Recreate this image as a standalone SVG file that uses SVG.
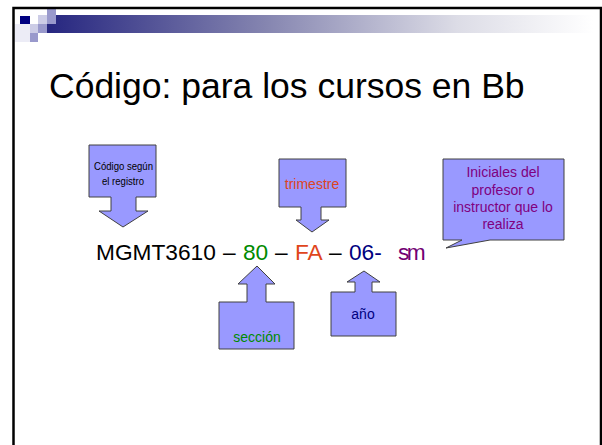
<svg xmlns="http://www.w3.org/2000/svg" width="602" height="445" viewBox="0 0 602 445">
<defs>
<linearGradient id="bar" x1="0" y1="0" x2="1" y2="0">
<stop offset="0" stop-color="#262680"/>
<stop offset="0.4" stop-color="#8585b0"/>
<stop offset="0.75" stop-color="#dcdce6"/>
<stop offset="1" stop-color="#ffffff"/>
</linearGradient>
<style>
.shape{fill:#9999ff;stroke:#404040;stroke-width:1}
.t{font-family:"Liberation Sans",Arial,sans-serif}
.box{font-size:14px;text-anchor:middle}
</style>
</defs>
<rect width="602" height="445" fill="#ffffff"/>
<g id="header">
<rect x="47" y="15" width="546" height="18" fill="url(#bar)"/>
<rect x="47" y="15" width="9" height="9" fill="#9999cc"/>
<rect x="47" y="7" width="9" height="8" fill="#9999cc"/>
<rect x="20" y="16" width="10" height="8" fill="#000080"/>
<rect x="38" y="15" width="9" height="9" fill="#ccccE6"/>
<rect x="15" y="24" width="15" height="18" fill="#ececf6"/>
<rect x="30" y="24" width="8" height="9" fill="#ccccE6"/>
<rect x="38" y="24" width="9" height="9" fill="#9999cc"/>
<rect x="30" y="33" width="8" height="9" fill="#9999cc"/>
<path d="M13.5,447 V8 H601 V447" fill="none" stroke="#000" stroke-width="2.5"/>
</g>
<text class="t" x="49" y="98" font-size="35.5" fill="#000">Código: para los cursos en Bb</text>
<g id="code" class="t" font-size="22.7">
<text x="96" y="260" fill="#000">MGMT3610</text>
<text x="223" y="260" fill="#000">–</text>
<text x="243" y="260" fill="#008a00">80</text>
<text x="275" y="260" fill="#000">–</text>
<text x="295" y="260" fill="#e0461c">FA</text>
<text x="329" y="260" fill="#000">–</text>
<text x="349" y="260" fill="#000080">06-</text>
<text x="398" y="260" fill="#730073" letter-spacing="-2.5">sm</text>
</g>
<g id="node-registro">
<path class="shape" d="M89,145 H156 V197 H136 V211 H148 L123,227 L99,211 H111 V197 H89 Z"/>
<text class="t" x="94" y="170" font-size="11.5" textLength="59" lengthAdjust="spacingAndGlyphs" fill="#000">Código según</text>
<text class="t" x="102" y="185" font-size="11.5" textLength="42" lengthAdjust="spacingAndGlyphs" fill="#000">el registro</text>
</g>
<g id="node-trimestre">
<path class="shape" d="M279,159 H346 V207 H321 V220 H329 L312,232 L296,220 H301 V207 H279 Z"/>
<text class="t box" x="312" y="189" fill="#dd4422">trimestre</text>
</g>
<g id="node-profesor">
<path class="shape" d="M443,159 H564 V240 H490 L446,248 L462,240 H443 Z"/>
<text class="t box" x="503" y="177" fill="#800080">Iniciales del</text>
<text class="t box" x="503" y="195" fill="#800080">profesor o</text>
<text class="t box" x="503" y="212" fill="#800080">instructor que lo</text>
<text class="t box" x="503" y="229" fill="#800080">realiza</text>
</g>
<g id="node-seccion">
<path class="shape" d="M219,349 V302 H247 V284 H238 L257,266 L275,284 H266 V302 H294 V349 Z"/>
<text class="t box" x="257" y="342" fill="#008a00">sección</text>
</g>
<g id="node-anio">
<path class="shape" d="M331,336 V292 H355 V282 H347 L364,271 L380,282 H372 V292 H396 V336 Z"/>
<text class="t box" x="363" y="319" fill="#000080">año</text>
</g>
</svg>
